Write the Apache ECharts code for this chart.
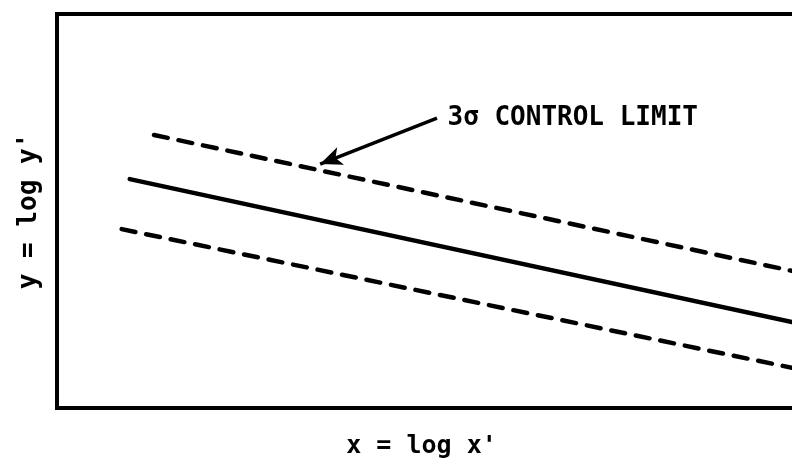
<!DOCTYPE html>
<html>
<head>
<meta charset="utf-8">
<script src="https://cdn.jsdelivr.net/npm/echarts@6/dist/echarts.min.js"></script>
<style>
  html, body { margin: 0; padding: 0; background: #fff; }
  #chart { width: 792px; height: 469px; }
</style>
</head>
<body>
<div id="chart"></div>
<script>
// Regression line with its 3-sigma control limits, in log-log units (0..10 on each axis)
const regressionLine = [[0.99, 5.81], [10, 2.18]];
const upperLimit = [[1.32, 6.93], [10, 3.48]];
const lowerLimit = [[0.88, 4.54], [10, 1.02]];
// Annotation arrow: from the label down to the upper limit
const arrowFrom = [5.17, 7.36];
const arrowTo = [3.58, 6.19];
const annotationText = '3σ CONTROL LIMIT';
const xName = "x = log x'";
const yName = "y = log y'";

const FONT = '"DejaVu Sans Mono", monospace';
const INK = '#000';

const chart = echarts.init(document.getElementById('chart'), null, { renderer: 'canvas' });

const frame = { show: true, lineStyle: { color: INK, width: 4, cap: 'square' } };
const hidden = {
  axisTick: { show: false }, axisLabel: { show: false }, splitLine: { show: false }
};
const dashed = { color: INK, width: 4.5, type: [14, 11], cap: 'round' };
const nameStyle = { fontFamily: FONT, fontSize: 26, fontWeight: 'bold', color: INK };

chart.setOption({
  backgroundColor: '#fff',
  animation: false,
  grid: { left: 57, top: 14, bottom: 61, right: 0 },
  xAxis: [
    Object.assign({
      type: 'value', min: 0, max: 10, position: 'bottom',
      axisLine: frame,
      name: xName, nameLocation: 'middle', nameGap: 26,
      nameTextStyle: Object.assign({}, nameStyle, { fontSize: 25, padding: [0, 6, 0, 0] })
    }, hidden),
    Object.assign({
      type: 'value', min: 0, max: 10, position: 'top',
      axisLine: frame
    }, hidden)
  ],
  yAxis: Object.assign({
    type: 'value', min: 0, max: 10,
    axisLine: frame,
    name: yName, nameLocation: 'middle', nameGap: 15, nameRotate: 90,
    nameTextStyle: nameStyle
  }, hidden),
  series: [
    {
      type: 'line', data: regressionLine, symbol: 'none',
      lineStyle: { color: INK, width: 4.5, cap: 'round' }
    },
    {
      type: 'line', data: upperLimit, symbol: 'none',
      lineStyle: dashed,
      markLine: {
        silent: true,
        symbol: ['none', 'arrow'],
        symbolSize: [14, 22],
        lineStyle: { color: INK, width: 3.5, type: 'solid' },
        label: { show: false },
        data: [[{ coord: arrowFrom }, { coord: arrowTo }]]
      },
      markPoint: {
        silent: true,
        symbol: 'circle', symbolSize: 1,
        itemStyle: { color: 'transparent' },
        label: {
          show: true, position: 'right', distance: 10,
          formatter: annotationText,
          fontFamily: FONT, fontSize: 26, fontWeight: 'bold', color: INK
        },
        data: [{ coord: arrowFrom }]
      }
    },
    {
      type: 'line', data: lowerLimit, symbol: 'none',
      lineStyle: dashed
    }
  ]
});
</script>
</body>
</html>
